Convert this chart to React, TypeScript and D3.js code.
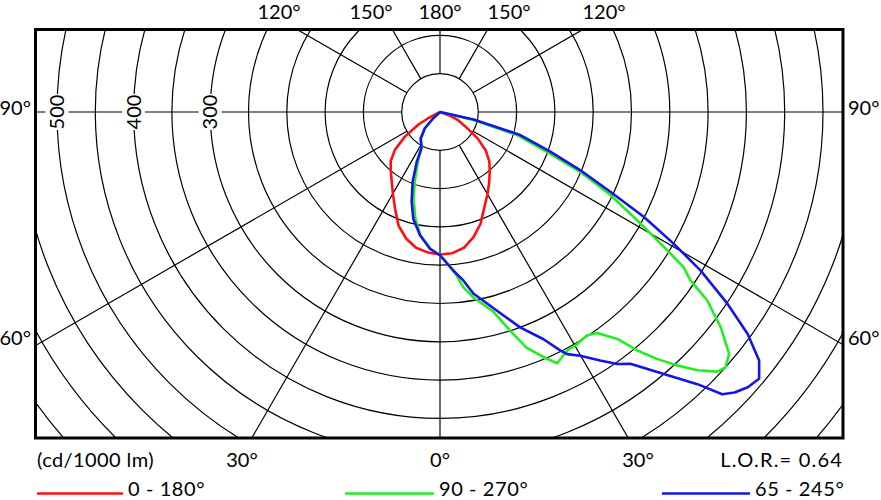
import React from "react";
import * as d3 from "d3";

const W = 881;
const H = 500;
const CX = 440;
const CY = 112;
const FX0 = 35.5;
const FY0 = 29.5;
const FX1 = 843;
const FY1 = 438;
const FONT = "Lato, 'Open Sans', sans-serif";

// grid
const ringValues = d3.range(50, 801, 50);
const spokeAngles = [-180, -150, -120, -90, -60, -30, 0, 30, 60, 90, 120, 150];
const radialLabels = [300, 400, 500];

// tick labels
const topLabels = ["120°", "150°", "180°", "150°", "120°"];
const topLabelX = [279, 371, 440, 509, 604];
const bottomLabels = ["30°", "0°", "30°"];
const bottomLabelX = [242, 440, 638];
const sideLabels = ["90°", "60°"];
const sideLabelY = [115, 345];

// C0 - C180 (negative angles = left half, C180)
const redAngles = [-90, -62, -60, -55, -50, -45, -40, -35, -30, -25, -20, -15, -10, -5, 0, 5, 10, 15, 20, 25, 30, 35, 40, 45, 50, 55, 60, 65, 70, 90];
const redValues = [0, 18, 32, 56, 77, 91, 100, 110, 123, 139, 158, 171, 180, 184, 186, 185, 180, 169, 155, 137, 124, 112, 101, 91, 78, 60, 39, 27, 14, 0];

// C90 - C270 (negative angles = C270)
const greenAngles = [-90, -47, -43, -36, -29, -24, -20, -17, -13, -9, -4, 0, 5, 7.6, 10.2, 15, 17.8, 20.2, 23.4, 25, 28, 30.6, 33.3, 35.4, 38, 39.6, 41.3, 43.1, 44.9, 46.9, 48.2, 50.1, 52.5, 54.8, 56.1, 57.5, 58.7, 60.9, 64, 66.9, 69.6, 73.3, 76.5, 90];
const greenValues = [0, 12, 29, 43, 49, 71, 96, 118, 143, 163, 179, 187, 208, 231, 246, 270, 300, 328, 351, 362, 353, 352, 349, 354, 376, 404, 429, 453, 476, 496, 500, 492, 462, 427, 394, 377, 347, 300, 248, 199, 149, 105, 45, 0];

// C65 - C245 (negative angles = C245)
const blueAngles = [-90, -47, -43, -36, -27, -25, -21.4, -17.5, -14, -9.2, -4.2, 0, 4.8, 7.9, 10.4, 16, 20.4, 24.5, 26.8, 27.7, 29.9, 32.8, 35.1, 37.1, 40.5, 43.4, 45, 46.4, 48.2, 50.1, 52.1, 54.2, 56.3, 58.7, 60.6, 62.8, 64.9, 67.5, 70.2, 74, 77.6, 90];
const blueValues = [0, 12, 29, 43, 53, 72, 98, 123, 144, 163, 179, 187, 208, 222, 241, 270, 300, 326, 349, 357, 367, 386, 402, 412, 450, 489, 521, 531, 539, 543, 528, 495, 451, 398, 350, 299, 246, 198, 153, 109, 45, 0];

const seriesNames = ["0 - 180°", "90 - 270°", "65 - 245°"];
const seriesColors = ["#ff1010", "#22ee22", "#1515e8"];
const legendLineX = [37, 345, 662];
const legendLineW = [86, 89, 88];

const rScale = d3.scaleLinear().domain([0, 50]).range([0, 38.3]);
const toRad = (a: number) => Math.PI - (a * Math.PI) / 180;

const radial = d3
  .lineRadial<[number, number]>()
  .angle((d) => toRad(d[0]))
  .radius((d) => rScale(d[1]));

const series = [
  d3.zip(redAngles, redValues) as [number, number][],
  d3.zip(greenAngles, greenValues) as [number, number][],
  d3.zip(blueAngles, blueValues) as [number, number][],
];

export default function App() {
  const textStyle = { fontFamily: FONT, fontSize: 20, fill: "#000" } as const;
  const r0 = rScale(50);
  const rMax = rScale(900);
  return (
    <svg
      width={W}
      height={H}
      viewBox={`0 0 ${W} ${H}`}
      style={{ position: "fixed", left: 0, top: 0, background: "#fff" }}
    >
      <defs>
        <clipPath id="frameClip">
          <rect x={FX0} y={FY0} width={FX1 - FX0} height={FY1 - FY0} />
        </clipPath>
      </defs>
      <rect x={0} y={0} width={W} height={H} fill="#fff" />
      <g clipPath="url(#frameClip)">
        {ringValues.map((v) => (
          <circle key={v} cx={CX} cy={CY} r={rScale(v)} fill="none" stroke="#000" strokeWidth={1.2} />
        ))}
        {spokeAngles.map((a) => {
          const t = toRad(a);
          return (
            <line
              key={a}
              x1={CX + r0 * Math.sin(t)}
              y1={CY - r0 * Math.cos(t)}
              x2={CX + rMax * Math.sin(t)}
              y2={CY - rMax * Math.cos(t)}
              stroke="#000"
              strokeWidth={1.2}
            />
          );
        })}
        {radialLabels.map((v) => (
          <g key={v} transform={`translate(${CX - rScale(v)},${CY}) rotate(-90)`}>
            <rect x={-18} y={-11.5} width={36} height={23} fill="#fff" />
            <text {...textStyle} textAnchor="middle" dy="0.36em">
              {v}
            </text>
          </g>
        ))}
        <g transform={`translate(${CX},${CY})`}>
          {series.map((s, i) => (
            <path
              key={i}
              d={radial(s) || ""}
              fill="none"
              stroke={seriesColors[i]}
              strokeWidth={2.6}
              strokeLinejoin="round"
            />
          ))}
        </g>
      </g>
      <rect x={FX0} y={FY0} width={FX1 - FX0} height={FY1 - FY0} fill="none" stroke="#000" strokeWidth={3} />
      {topLabels.map((t, i) => (
        <text key={i} {...textStyle} x={topLabelX[i]} y={19} textAnchor="middle">
          {t}
        </text>
      ))}
      {sideLabels.map((t, i) => (
        <g key={i}>
          <text {...textStyle} x={31} y={sideLabelY[i]} textAnchor="end">
            {t}
          </text>
          <text {...textStyle} x={848} y={sideLabelY[i]} textAnchor="start">
            {t}
          </text>
        </g>
      ))}
      {bottomLabels.map((t, i) => (
        <text key={i} {...textStyle} x={bottomLabelX[i]} y={467} textAnchor="middle">
          {t}
        </text>
      ))}
      <text {...textStyle} x={37} y={467} textAnchor="start" letterSpacing={0.4}>
        (cd/1000 lm)
      </text>
      <text {...textStyle} x={843} y={467} textAnchor="end" letterSpacing={1.2}>
        L.O.R.= 0.64
      </text>
      {seriesNames.map((n, i) => (
        <g key={i}>
          <line
            x1={legendLineX[i]}
            x2={legendLineX[i] + legendLineW[i]}
            y1={493.5}
            y2={493.5}
            stroke={seriesColors[i]}
            strokeWidth={2.4}
          />
          <text {...textStyle} x={legendLineX[i] + legendLineW[i] + 5} y={496} letterSpacing={0.6}>
            {n}
          </text>
        </g>
      ))}
    </svg>
  );
}
